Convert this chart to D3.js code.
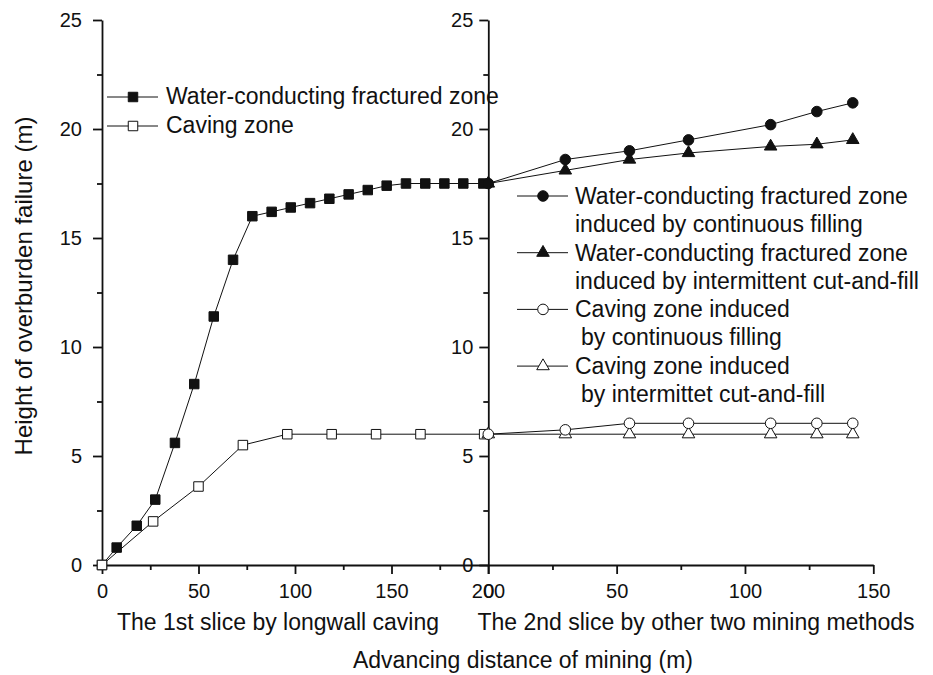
<!DOCTYPE html>
<html>
<head>
<meta charset="utf-8">
<script src="https://cdn.jsdelivr.net/npm/d3@7"></script>
<style>
  html, body { margin: 0; padding: 0; background: #fff; }
  svg { display: block; }
  text { font-family: Arial, "Liberation Sans", sans-serif; fill: #111; }
</style>
</head>
<body>
<svg id="chart" width="933" height="675"></svg>
<script>
// First slice (longwall caving), advancing distance in m
const slice1FracX = [0, 7.6, 18, 27.6, 37.8, 47.8, 57.9, 67.9, 77.9, 87.9, 97.8, 107.8, 117.8, 127.8, 137.7, 147.5, 157.5, 167.5, 177.4, 187.2, 197.6];
const slice1FracH = [0, 0.8, 1.8, 3.0, 5.6, 8.3, 11.4, 14.0, 16.0, 16.2, 16.4, 16.6, 16.8, 17.0, 17.2, 17.4, 17.5, 17.5, 17.5, 17.5, 17.5];
const slice1CaveX = [0, 26.5, 50, 73, 96, 119, 142, 165, 198];
const slice1CaveH = [0, 2.0, 3.6, 5.5, 6.0, 6.0, 6.0, 6.0, 6.0];

// Second slice (filling methods)
const slice2X = [0, 30, 55, 78, 110, 128, 142];
const fracContinuous = [17.5, 18.6, 19.0, 19.5, 20.2, 20.8, 21.2];
const fracIntermittent = [17.5, 18.1, 18.6, 18.9, 19.2, 19.3, 19.5];
const caveContinuous = [6.0, 6.2, 6.5, 6.5, 6.5, 6.5, 6.5];
const caveIntermittent = [6.0, 6.0, 6.0, 6.0, 6.0, 6.0, 6.0];

// Axis ticks
const yTicks = [0, 5, 10, 15, 20, 25];
const yMinor = [2.5, 7.5, 12.5, 17.5, 22.5];
const x1Ticks = [0, 50, 100, 150, 200];
const x1Minor = [25, 75, 125, 175];
const x2Ticks = [0, 50, 100, 150];
const x2Minor = [25, 75, 125];

const leftLegend = [
  { sym: "square", fill: "#000", lines: ["Water-conducting fractured zone"] },
  { sym: "square", fill: "#fff", lines: ["Caving zone"] }
];
const rightLegend = [
  { sym: "circle", fill: "#000", lines: ["Water-conducting fractured zone", "induced by continuous filling"], indent: 0 },
  { sym: "triangle", fill: "#000", lines: ["Water-conducting fractured zone", "induced by intermittent cut-and-fill"], indent: 0 },
  { sym: "circle", fill: "#fff", lines: ["Caving zone induced", "by continuous filling"], indent: 6 },
  { sym: "triangle", fill: "#fff", lines: ["Caving zone induced", "by intermittet cut-and-fill"], indent: 6 }
];

const svg = d3.select("#chart");

const y = d3.scaleLinear().domain([0, 25]).range([565, 20]);
const x1 = d3.scaleLinear().domain([0, 200]).range([102, 488]);
const x2 = d3.scaleLinear().domain([0, 150]).range([488.3, 873.3]);

const symbolTypes = { square: d3.symbolSquare, circle: d3.symbolCircle, triangle: d3.symbolTriangle };
const symbolSizes = { square: 90, circle: 88, triangle: 68 };
function symbolPath(kind) {
  return d3.symbol().type(symbolTypes[kind]).size(symbolSizes[kind])();
}

function styleAxis(g, width) {
  g.select(".domain").attr("stroke", "#111").attr("stroke-width", width);
  g.selectAll(".tick line").attr("stroke", "#111").attr("stroke-width", width);
}

// Y axes (left panel and right panel)
function drawYAxis(xPos, pad) {
  const major = svg.append("g").attr("transform", `translate(${xPos},0)`)
    .call(d3.axisLeft(y).tickValues(yTicks).tickSize(9).tickSizeOuter(0).tickPadding(pad));
  styleAxis(major, 1.8);
  major.selectAll("text").attr("font-size", 20).attr("fill", "#111");
  const minor = svg.append("g").attr("transform", `translate(${xPos},0)`)
    .call(d3.axisLeft(y).tickValues(yMinor).tickSize(5).tickSizeOuter(0).tickFormat(""));
  styleAxis(minor, 1.8);
  minor.select(".domain").remove();
}

function drawXAxis(scale, ticks, minorTicks) {
  const major = svg.append("g").attr("transform", `translate(0,${y(0)})`)
    .call(d3.axisBottom(scale).tickValues(ticks).tickSize(9).tickSizeOuter(0));
  styleAxis(major, 1.8);
  major.selectAll("text").attr("font-size", 20).attr("fill", "#111").attr("y", 33).attr("dy", null);
  const minor = svg.append("g").attr("transform", `translate(0,${y(0)})`)
    .call(d3.axisBottom(scale).tickValues(minorTicks).tickSize(5).tickSizeOuter(0).tickFormat(""));
  styleAxis(minor, 1.8);
  minor.select(".domain").remove();
}

drawXAxis(x1, x1Ticks, x1Minor);
drawXAxis(x2, x2Ticks, x2Minor);
drawYAxis(102, 11);
drawYAxis(488.3, 6);

// Series
function drawSeries(xs, hs, xScale, kind, fill) {
  const pts = xs.map((v, i) => [xScale(v), y(hs[i])]);
  svg.append("path")
    .attr("d", d3.line()(pts))
    .attr("fill", "none").attr("stroke", "#111").attr("stroke-width", 1);
  svg.append("g").selectAll("path").data(pts).join("path")
    .attr("transform", d => `translate(${d[0]},${d[1]})`)
    .attr("d", symbolPath(kind))
    .attr("fill", fill).attr("stroke", "#111").attr("stroke-width", 1);
}

drawSeries(slice1FracX, slice1FracH, x1, "square", "#111");
drawSeries(slice1CaveX, slice1CaveH, x1, "square", "#fff");
drawSeries(slice2X, caveIntermittent, x2, "triangle", "#fff");
drawSeries(slice2X, caveContinuous, x2, "circle", "#fff");
drawSeries(slice2X, fracIntermittent, x2, "triangle", "#111");
drawSeries(slice2X, fracContinuous, x2, "circle", "#111");

// Legends
function legendItem(g, x0, cy, item) {
  g.append("line").attr("x1", x0).attr("x2", x0 + 51).attr("y1", cy).attr("y2", cy)
    .attr("stroke", "#111").attr("stroke-width", 1);
  g.append("path").attr("transform", `translate(${x0 + 26},${cy})`)
    .attr("d", symbolPath(item.sym))
    .attr("fill", item.fill === "#000" ? "#111" : "#fff").attr("stroke", "#111").attr("stroke-width", 1);
}

const lg1 = svg.append("g");
leftLegend.forEach((item, i) => {
  const base = 104 + i * 29;
  legendItem(lg1, 107, base - 7, item);
  lg1.append("text").attr("x", 166).attr("y", base).attr("font-size", 23).text(item.lines[0]);
});

const lg2 = svg.append("g");
rightLegend.forEach((item, i) => {
  const base = 204 + i * 56.7;
  legendItem(lg2, 517, base - 8, item);
  item.lines.forEach((t, j) => {
    lg2.append("text").attr("x", 575 + (j > 0 ? item.indent : 0)).attr("y", base + j * 28)
      .attr("font-size", 23).text(t);
  });
});

// Axis titles
svg.append("text").attr("x", 278).attr("y", 630).attr("text-anchor", "middle")
  .attr("font-size", 23).text("The 1st slice by longwall caving");
svg.append("text").attr("x", 696).attr("y", 630).attr("text-anchor", "middle")
  .attr("font-size", 23).text("The 2nd slice by other two mining methods");
svg.append("text").attr("x", 523).attr("y", 668).attr("text-anchor", "middle")
  .attr("font-size", 23).text("Advancing distance of mining (m)");
svg.append("text").attr("transform", "translate(32,286) rotate(-90)").attr("text-anchor", "middle")
  .attr("font-size", 24).text("Height of overburden failure (m)");
</script>
</body>
</html>
